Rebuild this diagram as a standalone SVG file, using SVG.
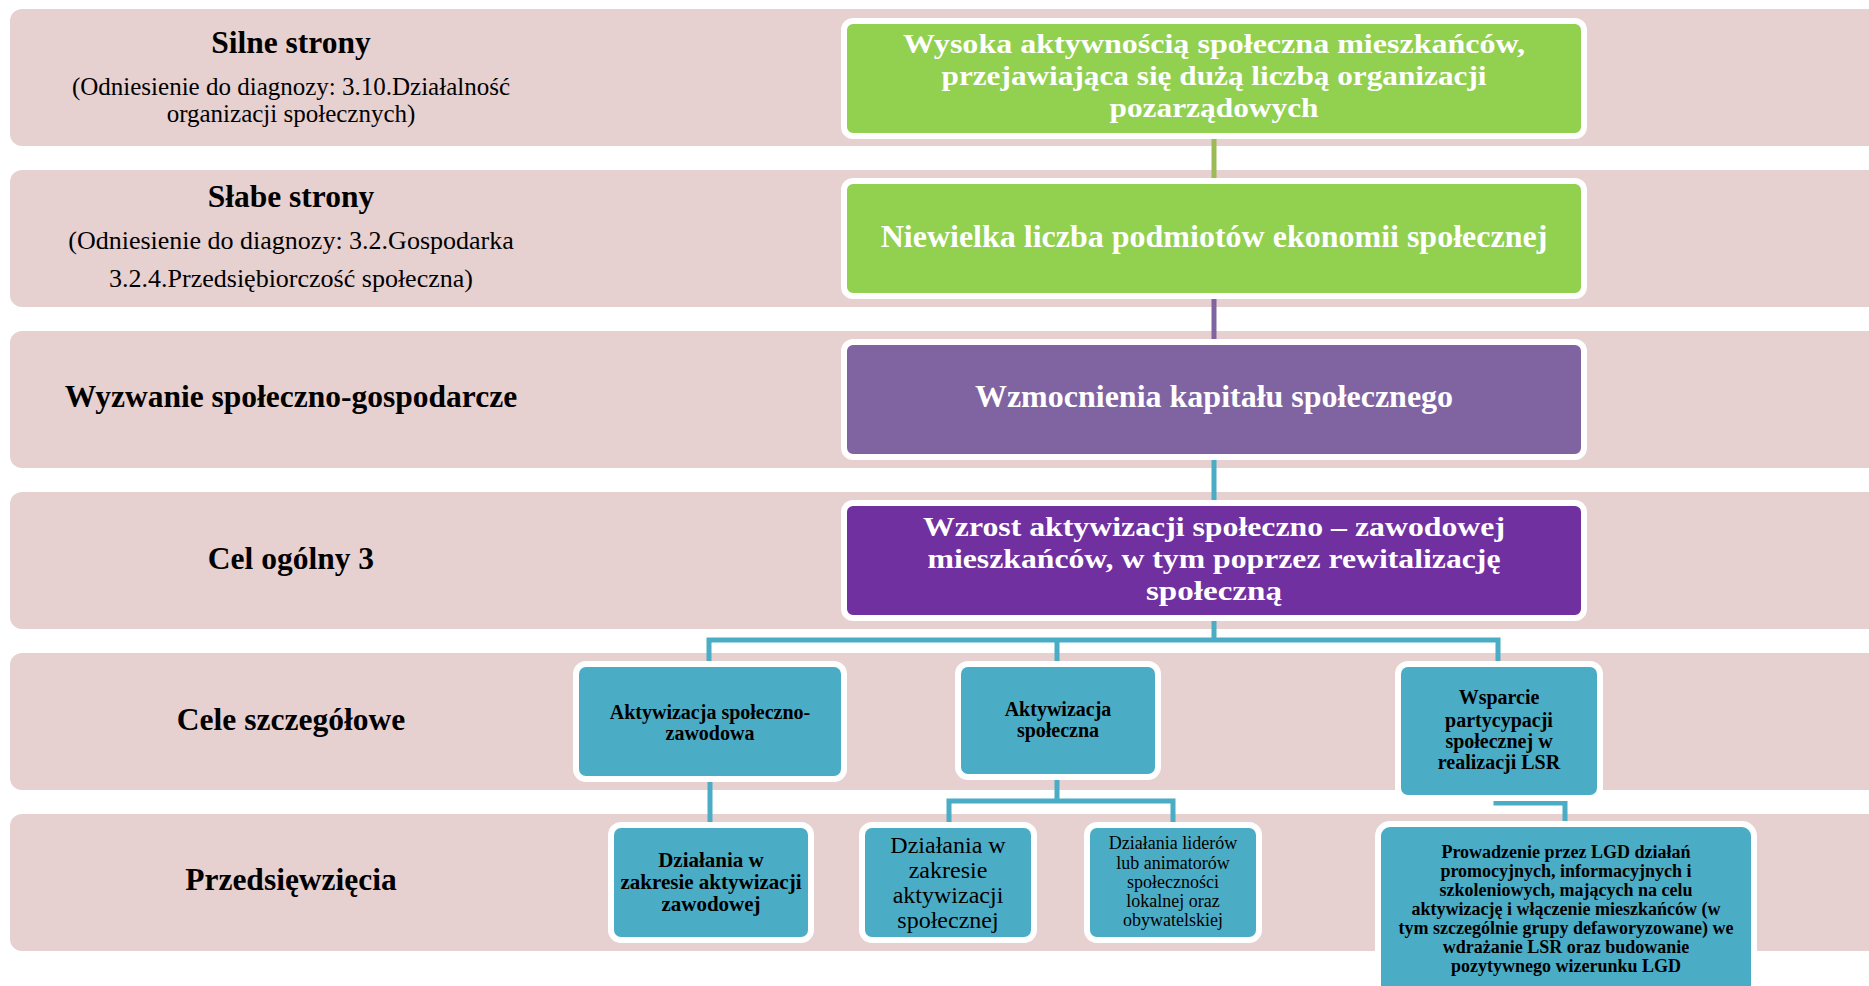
<svg xmlns="http://www.w3.org/2000/svg" width="1869" height="986" viewBox="0 0 1869 986">
<style>
.band{fill:#E7D0D0}
.box{stroke:#FFFFFF;stroke-width:6}
.g{fill:#92D050}
.p{fill:#8064A2}
.dp{fill:#7030A0}
.c{fill:#4BACC6}
text{font-family:"Liberation Serif","Times New Roman",serif;text-anchor:middle}
.lb{font-size:31.5px;font-weight:bold;fill:#000}
.ln{font-size:25px;fill:#000}
.ln2{font-size:26px;fill:#000}
.wt{font-size:32px;font-weight:bold;fill:#FFFFFF}
.wm{font-size:28px;font-weight:bold;fill:#FFFFFF}
.cb{font-size:20px;font-weight:bold;fill:#000}
.db{font-size:21px;font-weight:bold;fill:#000}
.er{font-size:24px;fill:#000}
.fr{font-size:18px;fill:#000}
.gb{font-size:18px;font-weight:bold;fill:#000}
.conn{fill:none;stroke-width:5}
</style>
<rect width="1869" height="986" fill="#FFFFFF"/>
<g id="bands">
<rect class="band" x="10" y="9" width="1880" height="137" rx="12"/>
<rect class="band" x="10" y="170" width="1880" height="137" rx="12"/>
<rect class="band" x="10" y="331" width="1880" height="137" rx="12"/>
<rect class="band" x="10" y="492" width="1880" height="137" rx="12"/>
<rect class="band" x="10" y="653" width="1880" height="137" rx="12"/>
<rect class="band" x="10" y="814" width="1880" height="137" rx="12"/>
</g>
<g id="row-labels">
<text class="lb" x="291" y="53">Silne strony</text>
<text class="ln" x="291" y="95">(Odniesienie do diagnozy: 3.10.Działalność</text>
<text class="ln" x="291" y="122">organizacji społecznych)</text>
<text class="lb" x="291" y="207">Słabe strony</text>
<text class="ln2" x="291" y="249">(Odniesienie do diagnozy: 3.2.Gospodarka</text>
<text class="ln2" x="291" y="287">3.2.4.Przedsiębiorczość społeczna)</text>
<text class="lb" x="291" y="407">Wyzwanie społeczno-gospodarcze</text>
<text class="lb" x="291" y="569">Cel ogólny 3</text>
<text class="lb" x="291" y="730">Cele szczegółowe</text>
<text class="lb" x="291" y="890">Przedsięwzięcia</text>
</g>
<g id="connectors">
<path class="conn" stroke="#9BBB59" d="M1214,136 V181"/>
<path class="conn" stroke="#8064A2" d="M1214,297 V342"/>
<path class="conn" stroke="#4BACC6" d="M1214,458 V503"/>
<path class="conn" stroke="#4BACC6" d="M1214,619 V640 M709,664 V640 H1498 V664 M1057,640 V664"/>
<path class="conn" stroke="#4BACC6" d="M710,779 V825"/>
<path class="conn" stroke="#4BACC6" d="M1057,777 V801 M949,825 V801 H1173 V825"/>
<path class="conn" stroke="#4BACC6" d="M1496,790 V803 H1565 V824"/>
</g>
<g id="silne">
<rect class="box g" x="844" y="21" width="740" height="115" rx="9"/>
<text class="wm" x="1214" y="53" textLength="622" lengthAdjust="spacingAndGlyphs">Wysoka aktywnością społeczna mieszkańców,</text>
<text class="wm" x="1214" y="85" textLength="545" lengthAdjust="spacingAndGlyphs">przejawiająca się dużą liczbą organizacji</text>
<text class="wm" x="1214" y="117" textLength="209" lengthAdjust="spacingAndGlyphs">pozarządowych</text>
</g>
<g id="slabe">
<rect class="box g" x="844" y="181" width="740" height="115" rx="9"/>
<text class="wt" x="1214" y="247">Niewielka liczba podmiotów ekonomii społecznej</text>
</g>
<g id="wyzwanie">
<rect class="box p" x="844" y="342" width="740" height="115" rx="9"/>
<text class="wt" x="1214" y="407">Wzmocnienia kapitału społecznego</text>
</g>
<g id="cel-ogolny">
<rect class="box dp" x="844" y="503" width="740" height="115" rx="9"/>
<text class="wm" x="1214" y="536" textLength="582" lengthAdjust="spacingAndGlyphs">Wzrost aktywizacji społeczno – zawodowej</text>
<text class="wm" x="1214" y="568" textLength="573" lengthAdjust="spacingAndGlyphs">mieszkańców, w tym poprzez rewitalizację</text>
<text class="wm" x="1214" y="600" textLength="136" lengthAdjust="spacingAndGlyphs">społeczną</text>
</g>
<g id="cel-a">
<rect class="box c" x="576" y="664" width="268" height="115" rx="10"/>
<text class="cb" x="710" y="719">Aktywizacja społeczno-</text>
<text class="cb" x="710" y="740">zawodowa</text>
</g>
<g id="cel-b">
<rect class="box c" x="958" y="664" width="200" height="113" rx="10"/>
<text class="cb" x="1058" y="716">Aktywizacja</text>
<text class="cb" x="1058" y="737">społeczna</text>
</g>
<g id="cel-c">
<rect class="box c" x="1398" y="664" width="202" height="134" rx="10"/>
<text class="cb" x="1499" y="704">Wsparcie</text>
<text class="cb" x="1499" y="727">partycypacji</text>
<text class="cb" x="1499" y="748">społecznej w</text>
<text class="cb" x="1499" y="769">realizacji LSR</text>
</g>
<g id="przed-d">
<rect class="box c" x="611" y="825" width="200" height="115" rx="10"/>
<text class="db" x="711" y="867">Działania w</text>
<text class="db" x="711" y="889">zakresie aktywizacji</text>
<text class="db" x="711" y="911">zawodowej</text>
</g>
<g id="przed-e">
<rect class="box c" x="862" y="825" width="172" height="115" rx="10"/>
<text class="er" x="948" y="853">Działania w</text>
<text class="er" x="948" y="878">zakresie</text>
<text class="er" x="948" y="903">aktywizacji</text>
<text class="er" x="948" y="928">społecznej</text>
</g>
<g id="przed-f">
<rect class="box c" x="1087" y="825" width="172" height="115" rx="10"/>
<text class="fr" x="1173" y="849">Działania liderów</text>
<text class="fr" x="1173" y="869">lub animatorów</text>
<text class="fr" x="1173" y="888">społeczności</text>
<text class="fr" x="1173" y="907">lokalnej oraz</text>
<text class="fr" x="1173" y="926">obywatelskiej</text>
</g>
<g id="przed-g">
<rect class="box c" x="1378" y="824" width="376" height="180" rx="12"/>
<text class="gb" x="1566" y="858">Prowadzenie przez LGD działań</text>
<text class="gb" x="1566" y="877">promocyjnych, informacyjnych i</text>
<text class="gb" x="1566" y="896">szkoleniowych, mających na celu</text>
<text class="gb" x="1566" y="915">aktywizację i włączenie mieszkańców (w</text>
<text class="gb" x="1566" y="934">tym szczególnie grupy defaworyzowane) we</text>
<text class="gb" x="1566" y="953">wdrażanie LSR oraz budowanie</text>
<text class="gb" x="1566" y="972">pozytywnego wizerunku LGD</text>
</g>
</svg>
